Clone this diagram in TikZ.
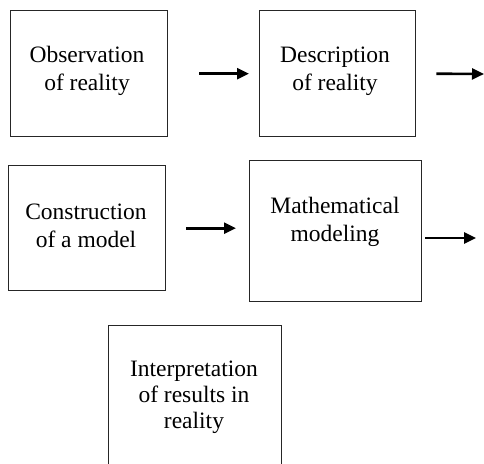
\documentclass[tikz,border=0pt]{standalone}
\usepackage{fontspec}
\setmainfont{Liberation Serif}
\usetikzlibrary{arrows.meta}
\begin{document}
\begin{tikzpicture}[x=1pt,y=-1pt,
  stepbox/.style={draw=black!85,line width=1.4pt,inner sep=0pt,anchor=north west},
  txt/.style={align=center,inner sep=0pt,font=\fontsize{23.5}{28}\selectfont},
  flow/.style={line width=2.6pt,-{Triangle[length=12pt,width=11pt]}}]
\clip (0,0) rectangle (484,463);
\fill[white] (0,0) rectangle (484,463);
% boxes
\node[stepbox,minimum width=157,minimum height=126] (b1) at (10,10) {};
\node[stepbox,minimum width=156,minimum height=126] (b2) at (259,10) {};
\node[stepbox,minimum width=157,minimum height=125] (b3) at (8,165) {};
\node[stepbox,minimum width=172,minimum height=141] (b4) at (249,160) {};
\node[stepbox,minimum width=173,minimum height=200] (b5) at (108,325) {};
% texts
\node[txt] (t1) at (87,71) {Observation\\of reality};
\node[txt] (t2) at (335,71) {Description\\of reality};
\node[txt] (t3) at (86,226) {Construction\\of a model};
\node[txt] (t4) at (335,222) {Mathematical\\modeling};
\node[txt,font=\fontsize{23.5}{26}\selectfont] (t5) at (194,397) {Interpretation\\of results in\\reality};
% arrow ends
\coordinate (e2) at (484,74);
\coordinate (e4) at (476,238);
% arrows
\draw[flow] ([xshift=31pt]b1.east) -- ([xshift=-10pt]b2.west);
\draw[flow] ([xshift=20pt]b2.east) -- (e2);
\draw[flow] ([xshift=20pt]b3.east) -- ([xshift=-13pt]b4.west |- b3.east);
\draw[flow] (b4.east |- e4) ++(3pt,0) -- (e4);
\end{tikzpicture}
\end{document}
